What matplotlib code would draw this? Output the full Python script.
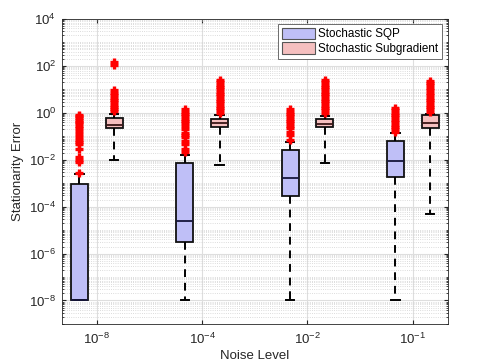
import numpy as np
import matplotlib
matplotlib.use("Agg")
import matplotlib.pyplot as plt
from matplotlib.patches import Patch
from matplotlib.ticker import LogLocator, NullFormatter

plt.rcParams['font.family'] = ['Liberation Sans', 'DejaVu Sans']
plt.rcParams['mathtext.fontset'] = 'custom'
plt.rcParams['mathtext.rm'] = 'Liberation Sans'
plt.rcParams['mathtext.it'] = 'Liberation Sans'

# data (log10 of stationarity error)
noise_labels = ['$10^{-8}$', '$10^{-4}$', '$10^{-2}$', '$10^{-1}$']

sqp_lo = [-8.0, -8.0, -8.0, -8.0]
sqp_q1 = [-7.98, -5.52, -3.53, -2.73]
sqp_med = [-7.98, -4.6, -2.76, -2.06]
sqp_q3 = [-3.02, -2.16, -1.6, -1.2]
sqp_hi = [-2.62, -1.81, -1.24, -0.85]
sqp_out = [
    [-0.08, -0.15, -0.22, -0.3, -0.38, -0.45, -0.55, -0.65, -0.78, -0.9, -1.05,
     -1.15, -1.25, -1.35, -1.55, -1.9, -2.0, -2.1, -2.55],
    [0.14, 0.05, -0.05, -0.15, -0.25, -0.35, -0.45, -0.55, -0.7, -0.85, -0.95,
     -1.05, -1.2, -1.35, -1.55, -1.67],
    [0.14, 0.05, -0.05, -0.15, -0.25, -0.35, -0.45, -0.55, -0.65, -0.8, -0.95, -1.15],
    [0.19, 0.1, 0.0, -0.1, -0.2, -0.3, -0.4, -0.5, -0.6, -0.7, -0.8],
]

sub_lo = [-2.02, -2.23, -2.14, -4.3]
sub_q1 = [-0.64, -0.62, -0.62, -0.64]
sub_med = [-0.5, -0.45, -0.48, -0.45]
sub_q3 = [-0.21, -0.27, -0.28, -0.1]
sub_hi = [-0.05, -0.1, -0.12, -0.05]
sub_out = [
    [2.15, 2.05, 0.97, 0.85, 0.75, 0.65, 0.55, 0.45, 0.35, 0.25, 0.15, 0.06],
    [1.4, 1.3, 1.2, 1.1, 1.0, 0.9, 0.8, 0.7, 0.6, 0.5, 0.4, 0.3, 0.2, 0.1, 0.0],
    [1.4, 1.3, 1.2, 1.1, 1.0, 0.9, 0.8, 0.7, 0.6, 0.5, 0.4, 0.3, 0.2, 0.1, -0.03],
    [1.37, 1.27, 1.17, 1.05, 0.95, 0.85, 0.75, 0.65, 0.55, 0.45, 0.35, 0.25, 0.15, 0.04],
]


def make_stats(lo, q1, med, q3, hi, out):
    stats = []
    for i in range(len(lo)):
        stats.append(dict(whislo=10 ** lo[i], q1=10 ** q1[i], med=10 ** med[i],
                          q3=10 ** q3[i], whishi=10 ** hi[i],
                          fliers=10 ** np.array(out[i])))
    return stats


fig = plt.figure(figsize=(4.79, 3.64), dpi=100)
ax = fig.add_axes([0.129, 0.11, 0.806, 0.838])

pos = np.arange(1, 5)
off = 0.165
w = 0.16

ax.bxp(make_stats(sqp_lo, sqp_q1, sqp_med, sqp_q3, sqp_hi, sqp_out),
       positions=pos - off, widths=w, patch_artist=True, manage_ticks=False,
       boxprops=dict(facecolor='#bfbff7', edgecolor='#111111', linewidth=1.3),
       medianprops=dict(color='#16163a', linewidth=1.3),
       whiskerprops=dict(color='black', linestyle=(0, (4, 3)), linewidth=1.4),
       capprops=dict(color='black', linewidth=1.4), capwidths=0.08,
       flierprops=dict(marker='+', markeredgecolor='red', markersize=6, markeredgewidth=2.4))

ax.bxp(make_stats(sub_lo, sub_q1, sub_med, sub_q3, sub_hi, sub_out),
       positions=pos + off, widths=w, patch_artist=True, manage_ticks=False,
       boxprops=dict(facecolor='#f5bfbf', edgecolor='#111111', linewidth=1.3),
       medianprops=dict(color='#3a1616', linewidth=1.3),
       whiskerprops=dict(color='black', linestyle=(0, (4, 3)), linewidth=1.4),
       capprops=dict(color='black', linewidth=1.4), capwidths=0.08,
       flierprops=dict(marker='+', markeredgecolor='red', markersize=6, markeredgewidth=2.4))

ax.set_yscale('log')
ax.set_ylim(1e-9, 1e4)
ax.set_xlim(0.667, 4.333)
ax.set_xticks(pos)
ax.set_xticklabels(noise_labels)
ax.set_yticks([10.0 ** k for k in range(-8, 5, 2)])
ax.set_yticklabels(['$10^{%d}$' % k for k in range(-8, 5, 2)])
ax.yaxis.set_minor_locator(LogLocator(base=10, subs=np.arange(1, 10), numticks=100))
ax.yaxis.set_minor_formatter(NullFormatter())

ax.grid(True, which='major', color='#dedede', linewidth=0.8)
ax.grid(True, which='minor', axis='y', color='#d0d0d0', linestyle=':', linewidth=0.6)
ax.set_axisbelow(True)

ax.tick_params(which='both', direction='in', top=True, right=True, labelsize=9.5,
               colors='#262626')
ax.tick_params(which='major', length=3)
ax.tick_params(which='minor', length=1.5)
ax.tick_params(axis='x', pad=6)
ax.tick_params(axis='y', pad=4)
for s in ax.spines.values():
    s.set_color('#262626')
    s.set_linewidth(0.6)

ax.set_xlabel('Noise Level', fontsize=9.5, color='#262626', labelpad=2)
ax.set_ylabel('Stationarity Error', fontsize=9.5, color='#262626', labelpad=4)

handles = [Patch(facecolor='#bfbff7', edgecolor='#555555', linewidth=0.8),
           Patch(facecolor='#f5bfbf', edgecolor='#555555', linewidth=0.8)]
leg = ax.legend(handles, ['Stochastic SQP', 'Stochastic Subgradient'],
                loc='upper right', bbox_to_anchor=(0.985, 0.985), fontsize=8.4,
                fancybox=False, framealpha=1, edgecolor='#555555',
                handlelength=2.8, handleheight=1.1, handletextpad=0.25,
                borderpad=0.35, labelspacing=0.2, borderaxespad=0)
leg.get_frame().set_linewidth(0.6)

fig.savefig('out.png', dpi=100)
